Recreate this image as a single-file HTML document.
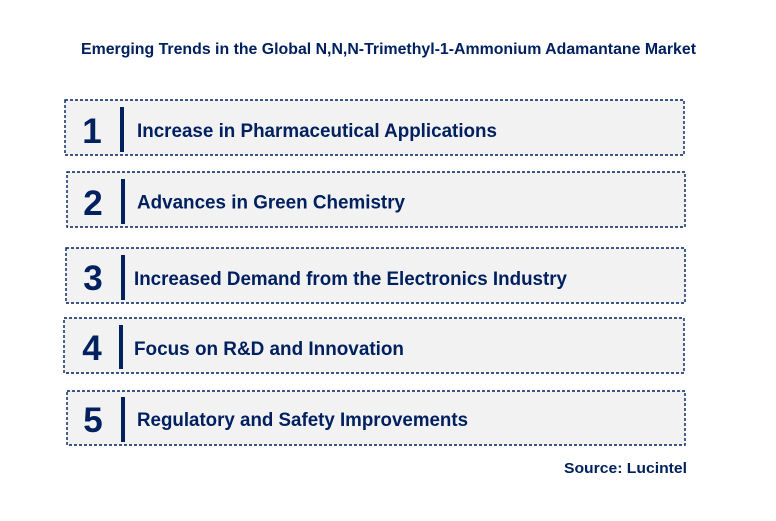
<!DOCTYPE html>
<html>
<head>
<meta charset="utf-8">
<style>
  html,body{margin:0;padding:0;background:#fff;}
  svg{display:block;}
  text{font-family:"Liberation Sans",Arial,sans-serif;font-weight:bold;fill:#002060;}
</style>
</head>
<body>
<svg width="776" height="521" viewBox="0 0 776 521" xmlns="http://www.w3.org/2000/svg">
  <rect x="0" y="0" width="776" height="521" fill="#ffffff"/>
  <text x="81" y="54" font-size="15.5" textLength="615" lengthAdjust="spacingAndGlyphs">Emerging Trends in the Global N,N,N-Trimethyl-1-Ammonium Adamantane Market</text>

  <g fill="#f2f2f2" stroke="#002060" stroke-width="1.4" stroke-dasharray="3 2">
    <rect x="65" y="100" width="619" height="55"/>
    <rect x="67" y="172" width="618" height="55"/>
    <rect x="66" y="248" width="619" height="55"/>
    <rect x="64" y="318" width="620" height="55"/>
    <rect x="67" y="391" width="618" height="54"/>
  </g>

  <g fill="#002060">
    <rect x="120" y="107" width="4" height="45"/>
    <rect x="121" y="179" width="4" height="45"/>
    <rect x="121" y="255" width="4" height="45"/>
    <rect x="119" y="325" width="4" height="44"/>
    <rect x="121" y="397" width="4" height="45"/>
  </g>

  <g font-size="35" text-anchor="middle">
    <text x="92" y="143">1</text>
    <text x="93" y="215">2</text>
    <text x="93" y="290">3</text>
    <text x="92" y="360">4</text>
    <text x="93" y="432">5</text>
  </g>

  <g font-size="19.5">
    <text x="137" y="137" textLength="360" lengthAdjust="spacingAndGlyphs">Increase in Pharmaceutical Applications</text>
    <text x="137" y="208.5" textLength="268" lengthAdjust="spacingAndGlyphs">Advances in Green Chemistry</text>
    <text x="134" y="285" textLength="433" lengthAdjust="spacingAndGlyphs">Increased Demand from the Electronics Industry</text>
    <text x="134" y="355" textLength="270" lengthAdjust="spacingAndGlyphs">Focus on R&amp;D and Innovation</text>
    <text x="137" y="426" textLength="331" lengthAdjust="spacingAndGlyphs">Regulatory and Safety Improvements</text>
  </g>

  <text x="564" y="473" font-size="15" textLength="123" lengthAdjust="spacingAndGlyphs">Source: Lucintel</text>
</svg>
</body>
</html>
